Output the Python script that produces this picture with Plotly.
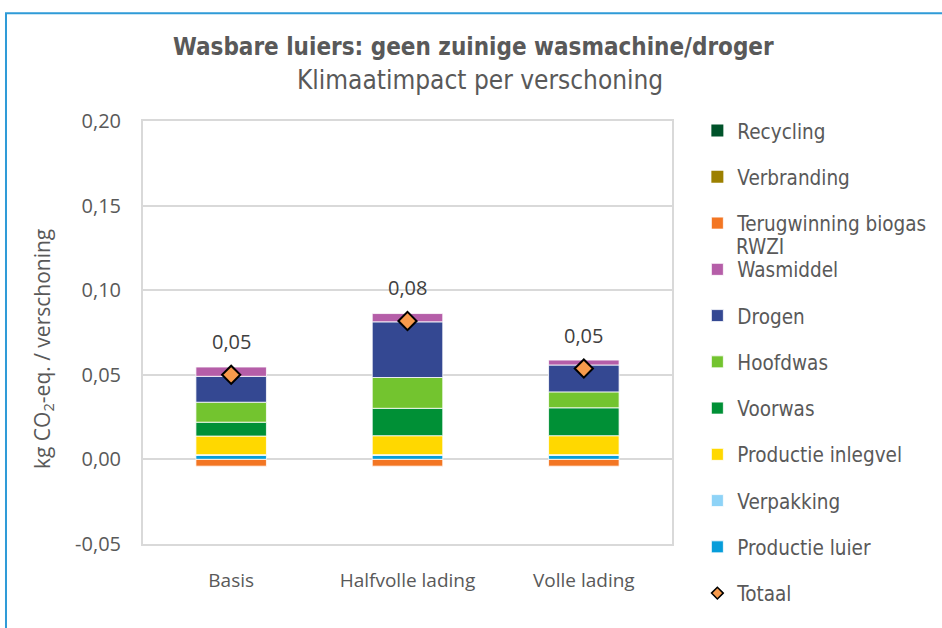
import plotly.graph_objects as go

categories = ["Basis", "Halfvolle lading", "Volle lading"]

productie_luier = [0.0024, 0.0024, 0.0024]
verpakking = [0.0004, 0.0004, 0.0004]
productie_inlegvel = [0.0110, 0.0112, 0.0112]
voorwas = [0.0082, 0.0162, 0.0165]
hoofdwas = [0.0118, 0.0182, 0.0094]
drogen = [0.0153, 0.0329, 0.0159]
wasmiddel = [0.0055, 0.0049, 0.0029]
terugwinning_biogas = [-0.0040, -0.0040, -0.0040]
verbranding = [0.0, 0.0, 0.0]
recycling = [0.0, 0.0, 0.0]
totaal = [0.0500, 0.0818, 0.0537]

y_ticks = [-0.05, 0.0, 0.05, 0.10, 0.15, 0.20]
y_ticktext = [f"{v:.2f}".replace(".", ",") for v in y_ticks]

TXT = "#595959"
LEG_FONT = "DejaVu Sans Condensed, Lato, sans-serif"
NUM_FONT = "Open Sans, sans-serif"

series = [
    # name, values, color, legendrank
    ("Productie luier", productie_luier, "#069DDA", 10),
    ("Verpakking", verpakking, "#8ED3F7", 9),
    ("Productie inlegvel", productie_inlegvel, "#FFD800", 8),
    ("Voorwas", voorwas, "#009036", 7),
    ("Hoofdwas", hoofdwas, "#73C42F", 6),
    ("Drogen", drogen, "#344892", 5),
    ("Wasmiddel", wasmiddel, "#B55EA8", 4),
    ("Terugwinning biogas", terugwinning_biogas, "#F37623", 3),
    ("Verbranding", verbranding, "#9C8000", 2),
    ("Recycling", recycling, "#00532A", 1),
]

fig = go.Figure()
for name, vals, color, rank in series:
    nonzero = any(v != 0 for v in vals)
    fig.add_trace(go.Bar(
        x=categories, y=vals, name=name,
        marker=dict(color=color, line=dict(color="white", width=0.8 if nonzero else 0)),
        legendrank=rank, legendgroup=name,
        hoverinfo="name+y",
    ))

fig.add_trace(go.Scatter(
    x=categories, y=totaal, name="Totaal", mode="markers",
    marker=dict(symbol="diamond", size=14, color="#F79A4C", line=dict(color="black", width=2)),
    showlegend=False,
))
# legend entry for Totaal (smaller symbol as in reference)
fig.add_trace(go.Scatter(
    x=[None], y=[None], name="Totaal", mode="markers",
    marker=dict(symbol="diamond", size=9, color="#F79A4C", line=dict(color="black", width=1.5)),
    legendrank=11, legendgroup="Totaal",
))

annotations = []
for c, t in zip(categories, totaal):
    annotations.append(dict(
        x=c, y=t, xref="x", yref="y", text=f"{t:.2f}".replace(".", ","),
        xanchor="center", yanchor="middle",
        showarrow=False, yshift=33, font=dict(family=NUM_FONT, size=20, color="#404040"),
    ))

# titles
annotations.append(dict(
    x=0.624, y=1.175, xref="paper", yref="paper", showarrow=False,
    xanchor="center", yanchor="middle",
    text="<b>Wasbare luiers: geen zuinige wasmachine/droger</b>",
    font=dict(family=LEG_FONT, size=24, color=TXT),
))
annotations.append(dict(
    x=0.637, y=1.097, xref="paper", yref="paper", showarrow=False,
    xanchor="center", yanchor="middle",
    text="Klimaatimpact per verschoning",
    font=dict(family=LEG_FONT, size=26, color=TXT),
))
# y axis title
annotations.append(dict(
    x=-0.189, y=0.461, xref="paper", yref="paper", showarrow=False, textangle=-90,
    xanchor="center", yanchor="middle",
    text="kg CO<sub>2</sub>-eq. / verschoning",
    font=dict(family=NUM_FONT, size=21, color=TXT),
))
# second line of legend label
annotations.append(dict(
    x=1.118, y=0.702, xref="paper", yref="paper", showarrow=False,
    xanchor="left", yanchor="middle", text="RWZI",
    font=dict(family=LEG_FONT, size=20.5, color=TXT),
))

fig.update_layout(
    width=942, height=628,
    margin=dict(l=143, r=270, t=121, b=84),
    paper_bgcolor="white", plot_bgcolor="white",
    barmode="relative", bargap=0.6,
    separators=",.",
    showlegend=True,
    legend=dict(
        xref="container", yref="container",
        x=0.7403, xanchor="left", y=0.8236, yanchor="top",
        traceorder="grouped", tracegroupgap=16.6, maxheight=1,
        font=dict(family=LEG_FONT, size=20.5, color=TXT),
        bgcolor="rgba(0,0,0,0)",
    ),
    annotations=annotations,
    shapes=[dict(
        type="rect", xref="paper", yref="paper",
        x0=-0.259, x1=2.0, y0=-1.0, y1=1.255,
        line=dict(color="#2F9BD7", width=2), layer="below",
    )],
)

fig.update_xaxes(
    showline=True, mirror=True, linecolor="#D9D9D9", linewidth=2,
    showgrid=False, ticks="", ticklabelstandoff=18,
    tickfont=dict(family=NUM_FONT, size=19, color=TXT),
)
fig.update_yaxes(
    range=[-0.05, 0.20], tickvals=y_ticks, ticktext=y_ticktext,
    showline=True, mirror=True, linecolor="#D9D9D9", linewidth=2,
    showgrid=True, gridcolor="#D9D9D9", gridwidth=1.5,
    zeroline=False, ticks="", ticklabelstandoff=16,
    tickfont=dict(family=NUM_FONT, size=20, color=TXT),
)

fig.write_html(
    "out.html",
    config={"displayModeBar": False},
    post_script="document.body.style.margin='0';document.body.style.overflow='hidden';",
)
